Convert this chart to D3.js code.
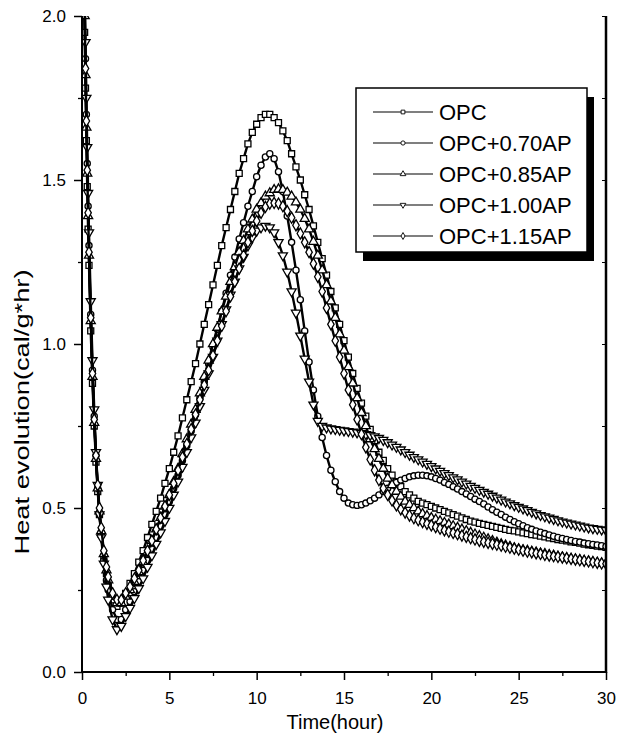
<!DOCTYPE html>
<html>
<head>
<meta charset="utf-8">
<script src="https://cdn.jsdelivr.net/npm/d3@7/dist/d3.min.js"></script>
<style>
  html, body { margin: 0; padding: 0; background: #fff; }
  svg { display: block; }
  text { font-family: "Liberation Sans", Arial, sans-serif; fill: #000; }
</style>
</head>
<body>
<svg id="chart" width="619" height="740"></svg>
<script>
// ---------------- DATA ----------------
const hours = [0.1,0.15,0.2,0.25,0.3,0.35,0.4,0.5,0.6,0.7,0.8,0.9,1.0,1.1,1.25,1.4,1.5,1.75,2.0,2.25,2.5,
  2.75,3,3.25,3.5,3.75,4,4.25,4.5,4.75,5,
  5.25,5.5,5.75,6,6.25,6.5,6.75,7,7.25,7.5,
  7.75,8,8.25,8.5,8.75,9,9.25,9.5,9.75,10,
  10.25,10.5,10.75,11,11.25,11.5,11.75,12,12.25,12.5,
  12.75,13,13.25,13.5,13.75,14,14.25,14.5,14.75,15,
  15.25,15.5,15.75,16,16.25,16.5,16.75,17,17.25,17.5,
  17.75,18,18.25,18.5,18.75,19,19.25,19.5,19.75,20,
  20.25,20.5,20.75,21,21.25,21.5,21.75,22,22.25,22.5,
  22.75,23,23.25,23.5,23.75,24,24.25,24.5,24.75,25,
  25.25,25.5,25.75,26,26.25,26.5,26.75,27,27.25,27.5,
  27.75,28,28.25,28.5,28.75,29,29.25,29.5,29.75,30];

const opc = [2.15,1.95,1.78,1.62,1.48,1.35,1.24,1.04,0.88,0.75,0.64,0.55,0.48,0.42,0.35,0.30,0.27,0.22,0.20,0.21,0.24,
  0.27,0.30,0.335,0.37,0.41,0.45,0.49,0.53,0.575,0.62,
  0.67,0.72,0.775,0.83,0.885,0.94,1.00,1.06,1.12,1.18,
  1.24,1.30,1.355,1.41,1.465,1.52,1.565,1.61,1.645,1.67,
  1.69,1.70,1.70,1.69,1.675,1.65,1.62,1.58,1.54,1.50,
  1.455,1.41,1.36,1.31,1.26,1.21,1.16,1.11,1.06,1.01,
  0.96,0.91,0.865,0.82,0.78,0.74,0.705,0.67,0.645,0.62,
  0.60,0.58,0.565,0.55,0.54,0.53,0.52,0.515,0.51,0.505,
  0.50,0.495,0.49,0.485,0.48,0.475,0.47,0.465,0.46,0.457,
  0.453,0.45,0.447,0.444,0.441,0.438,0.435,0.432,0.43,0.427,
  0.424,0.422,0.419,0.417,0.414,0.412,0.409,0.407,0.404,0.402,
  0.40,0.397,0.395,0.393,0.39,0.388,0.386,0.384,0.382,0.38];

const opc070 = [2.25,2.05,1.87,1.70,1.55,1.42,1.30,1.09,0.92,0.78,0.66,0.56,0.48,0.42,0.34,0.28,0.25,0.19,0.16,0.16,0.19,
  0.215,0.245,0.275,0.31,0.34,0.375,0.41,0.445,0.48,0.52,
  0.56,0.60,0.645,0.69,0.735,0.785,0.835,0.885,0.94,0.99,
  1.045,1.10,1.155,1.21,1.265,1.32,1.37,1.42,1.465,1.51,
  1.545,1.57,1.58,1.565,1.525,1.465,1.39,1.31,1.225,1.135,
  1.04,0.945,0.86,0.78,0.715,0.66,0.615,0.58,0.55,0.53,
  0.515,0.51,0.508,0.51,0.515,0.522,0.53,0.54,0.55,0.56,
  0.57,0.578,0.585,0.59,0.595,0.598,0.60,0.60,0.598,0.595,
  0.59,0.585,0.578,0.572,0.565,0.558,0.55,0.543,0.535,0.527,
  0.52,0.512,0.503,0.495,0.487,0.48,0.472,0.465,0.458,0.452,
  0.446,0.44,0.435,0.43,0.426,0.422,0.418,0.414,0.41,0.407,
  0.404,0.401,0.398,0.396,0.393,0.391,0.389,0.387,0.385,0.383];

const opc085 = [2.20,2.00,1.82,1.66,1.52,1.39,1.27,1.07,0.90,0.76,0.65,0.56,0.49,0.43,0.36,0.31,0.28,0.23,0.21,0.21,0.23,
  0.25,0.275,0.305,0.335,0.365,0.40,0.435,0.47,0.505,0.54,
  0.58,0.62,0.665,0.71,0.755,0.80,0.85,0.90,0.95,1.00,
  1.05,1.10,1.145,1.19,1.235,1.28,1.315,1.35,1.38,1.41,
  1.43,1.45,1.46,1.47,1.472,1.47,1.462,1.45,1.432,1.41,
  1.382,1.35,1.312,1.27,1.225,1.18,1.13,1.08,1.03,0.98,
  0.93,0.88,0.835,0.79,0.75,0.71,0.68,0.65,0.62,0.59,
  0.57,0.55,0.535,0.52,0.51,0.50,0.49,0.482,0.476,0.47,
  0.465,0.46,0.455,0.45,0.445,0.44,0.435,0.43,0.425,0.42,
  0.415,0.41,0.405,0.40,0.395,0.39,0.386,0.382,0.378,0.375,
  0.372,0.37,0.367,0.365,0.362,0.36,0.357,0.355,0.352,0.35,
  0.347,0.345,0.343,0.341,0.339,0.337,0.335,0.333,0.331,0.33];

const opc100 = [2.30,2.10,1.92,1.75,1.60,1.46,1.34,1.13,0.95,0.80,0.67,0.57,0.48,0.41,0.33,0.26,0.22,0.16,0.13,0.14,0.17,
  0.195,0.225,0.255,0.285,0.32,0.355,0.39,0.425,0.46,0.50,
  0.54,0.58,0.625,0.67,0.715,0.76,0.81,0.86,0.91,0.96,
  1.01,1.06,1.105,1.15,1.19,1.23,1.265,1.30,1.325,1.345,
  1.355,1.36,1.355,1.34,1.31,1.27,1.22,1.16,1.095,1.025,
  0.955,0.885,0.815,0.765,0.75,0.745,0.742,0.74,0.738,0.736,
  0.734,0.732,0.73,0.728,0.725,0.722,0.718,0.713,0.707,0.70,
  0.693,0.686,0.678,0.67,0.662,0.655,0.648,0.641,0.634,0.627,
  0.62,0.613,0.606,0.60,0.593,0.587,0.58,0.574,0.567,0.561,
  0.555,0.549,0.543,0.537,0.531,0.525,0.519,0.514,0.508,0.503,
  0.498,0.493,0.488,0.483,0.478,0.474,0.47,0.466,0.462,0.458,
  0.455,0.452,0.449,0.446,0.443,0.44,0.438,0.436,0.434,0.432];

const opc115 = [2.22,2.02,1.84,1.68,1.53,1.40,1.28,1.08,0.91,0.77,0.66,0.57,0.50,0.44,0.37,0.32,0.29,0.24,0.22,0.22,0.24,
  0.26,0.285,0.31,0.34,0.37,0.40,0.435,0.47,0.505,0.54,
  0.575,0.615,0.655,0.695,0.74,0.785,0.83,0.875,0.92,0.965,
  1.01,1.055,1.10,1.145,1.19,1.23,1.27,1.31,1.345,1.375,
  1.40,1.418,1.428,1.43,1.428,1.42,1.405,1.385,1.362,1.337,
  1.31,1.28,1.245,1.205,1.16,1.11,1.06,1.01,0.96,0.91,
  0.86,0.815,0.77,0.725,0.685,0.648,0.615,0.585,0.56,0.54,
  0.523,0.508,0.496,0.486,0.477,0.469,0.463,0.457,0.452,0.447,
  0.442,0.437,0.432,0.428,0.424,0.42,0.416,0.412,0.408,0.404,
  0.40,0.397,0.394,0.391,0.388,0.385,0.382,0.379,0.376,0.373,
  0.37,0.367,0.365,0.362,0.36,0.357,0.355,0.353,0.351,0.349,
  0.347,0.345,0.343,0.341,0.339,0.337,0.335,0.333,0.331,0.33];

const seriesNames = ["OPC", "OPC+0.70AP", "OPC+0.85AP", "OPC+1.00AP", "OPC+1.15AP"];
const seriesValues = [opc, opc070, opc085, opc100, opc115];
const seriesSymbols = ["square", "circle", "triangle", "triangleDown", "diamond"];

const xMajorTicks = [0, 5, 10, 15, 20, 25, 30];
const xMinorTicks = [2.5, 7.5, 12.5, 17.5, 22.5, 27.5];
const yMajorTicks = [0.0, 0.5, 1.0, 1.5, 2.0];
const yMinorTicks = [0.25, 0.75, 1.25, 1.75];
const xTitle = "Time(hour)";
const yTitle = "Heat evolution(cal/g*hr)";

// ---------------- LAYOUT ----------------
const L = 82, R = 606, T = 16, B = 672;
const svg = d3.select("#chart");
const x = d3.scaleLinear().domain([0, 30]).range([L, R]);
const y = d3.scaleLinear().domain([0, 2]).range([B, T]);

svg.append("defs").append("clipPath").attr("id", "clip")
  .append("rect").attr("x", L).attr("y", T).attr("width", R - L).attr("height", B - T);

function symPath(kind, size) {
  if (kind === "square") return d3.symbol(d3.symbolSquare, size)();
  if (kind === "circle") return d3.symbol(d3.symbolCircle, size)();
  if (kind === "triangle") return d3.symbol(d3.symbolTriangle, size)();
  if (kind === "triangleDown") return d3.symbol(d3.symbolTriangle, size)();
  return d3.symbol(d3.symbolDiamond, size)();
}
function symRot(kind) { return kind === "triangleDown" ? 180 : 0; }

// ---------------- SERIES ----------------
const plot = svg.append("g").attr("clip-path", "url(#clip)");
const line = d3.line().x(d => x(d[0])).y(d => y(d[1]));

seriesValues.forEach((vals, i) => {
  const n = Math.min(hours.length, vals.length);
  const pts = [];
  for (let k = 0; k < n; k++) pts.push([hours[k], vals[k]]);
  const g = plot.append("g");
  g.append("path").attr("d", line(pts))
    .attr("fill", "none").attr("stroke", "#000").attr("stroke-width", 2.4);
  const kind = seriesSymbols[i];
  g.selectAll("path.m").data(pts).join("path").attr("class", "m")
    .attr("d", symPath(kind, kind === "circle" ? 30 : 36))
    .attr("transform", d => `translate(${x(d[0])},${y(d[1])}) rotate(${symRot(kind)})`)
    .attr("fill", "#fff").attr("stroke", "#000").attr("stroke-width", 1.3);
});

// ---------------- AXES ----------------
const axG = svg.append("g");
const yAxis = d3.axisLeft(y).tickValues(yMajorTicks).tickFormat(d3.format(".1f"))
  .tickSize(8).tickPadding(8);
const gy = axG.append("g").attr("transform", `translate(${L},0)`).call(yAxis);
gy.select(".domain").remove();
gy.selectAll(".tick line").attr("stroke-width", 1.5);
gy.selectAll(".tick text").style("font-size", "17px").style("font-family", "'Liberation Sans', Arial, sans-serif");
axG.append("g").attr("transform", `translate(${L},0)`)
  .call(d3.axisLeft(y).tickValues(yMinorTicks).tickSize(4).tickFormat(""))
  .call(g => g.select(".domain").remove())
  .selectAll(".tick line").attr("stroke-width", 1.3);

const xAxis = d3.axisBottom(x).tickValues(xMajorTicks).tickFormat(d3.format("d"))
  .tickSize(8).tickPadding(12);
const gx = axG.append("g").attr("transform", `translate(0,${B})`).call(xAxis);
gx.select(".domain").remove();
gx.selectAll(".tick line").attr("stroke-width", 1.5);
gx.selectAll(".tick text").style("font-size", "17px").style("font-family", "'Liberation Sans', Arial, sans-serif");
axG.append("g").attr("transform", `translate(0,${B})`)
  .call(d3.axisBottom(x).tickValues(xMinorTicks).tickSize(4).tickFormat(""))
  .call(g => g.select(".domain").remove())
  .selectAll(".tick line").attr("stroke-width", 1.3);

axG.append("g").attr("transform", `translate(${R},0)`)
  .call(d3.axisLeft(y).tickValues(yMajorTicks.concat(yMinorTicks)).tickSize(4).tickFormat(""))
  .call(g => g.select(".domain").remove())
  .selectAll(".tick line").attr("stroke-width", 1).attr("x2", -4);

axG.append("line").attr("x1", L).attr("x2", L).attr("y1", T).attr("y2", B + 1)
  .attr("stroke", "#000").attr("stroke-width", 2);
axG.append("line").attr("x1", L - 1).attr("x2", R + 1).attr("y1", B).attr("y2", B)
  .attr("stroke", "#000").attr("stroke-width", 2);
axG.append("line").attr("x1", R).attr("x2", R).attr("y1", T).attr("y2", B + 1)
  .attr("stroke", "#000").attr("stroke-width", 2.5);

// titles
svg.append("text").attr("x", 335).attr("y", 729).attr("text-anchor", "middle")
  .style("font-size", "20px").text(xTitle);
svg.append("text").attr("transform", "translate(29,412) rotate(-90)").attr("text-anchor", "middle")
  .attr("textLength", 285).attr("lengthAdjust", "spacingAndGlyphs")
  .style("font-size", "20px").text(yTitle);

// ---------------- LEGEND ----------------
const lg = svg.append("g");
const lx = 356, ly = 88, lw = 231, lh = 164;
lg.append("rect").attr("x", lx + 7).attr("y", ly + 9).attr("width", lw).attr("height", lh).attr("fill", "#000");
lg.append("rect").attr("x", lx).attr("y", ly).attr("width", lw).attr("height", lh)
  .attr("fill", "#fff").attr("stroke", "#000").attr("stroke-width", 1.5);
seriesNames.forEach((name, i) => {
  const cy = ly + 24 + i * 31;
  lg.append("line").attr("x1", lx + 17).attr("x2", lx + 77).attr("y1", cy).attr("y2", cy)
    .attr("stroke", "#000").attr("stroke-width", 1.2);
  const kind = seriesSymbols[i];
  lg.append("path").attr("d", symPath(kind, 14))
    .attr("transform", `translate(${lx + 47},${cy}) rotate(${symRot(kind)})`)
    .attr("fill", "#fff").attr("stroke", "#000").attr("stroke-width", 0.9);
  lg.append("text").attr("x", lx + 83).attr("y", cy + 8)
    .style("font-size", "22px").text(name);
});
</script>
</body>
</html>
